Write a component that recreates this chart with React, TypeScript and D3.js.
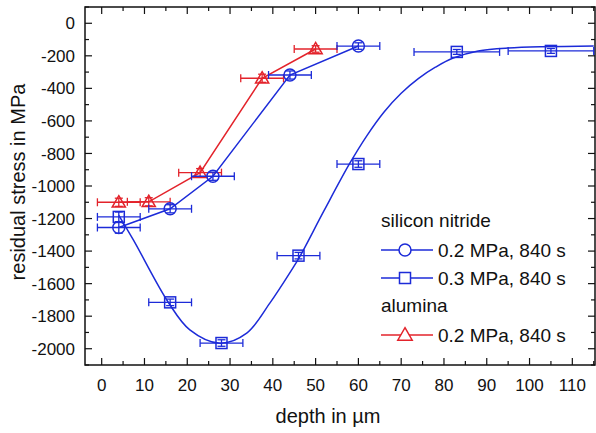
import React, { useRef, useEffect } from 'react';
import * as d3 from 'd3';

// silicon nitride, 0.2 MPa, 840 s
const circleDepth = [4, 16, 26, 44, 60];
const circleStress = [-1255, -1140, -940, -318, -140];
const circleDepthErr = [5, 5, 5, 5, 5];
const circleStressErr = [35, 25, 25, 25, 20];

// silicon nitride, 0.3 MPa, 840 s
const squareDepth = [4, 16, 28, 46, 60, 83, 105];
const squareStress = [-1190, -1715, -1965, -1428, -865, -176, -170];
const squareDepthErr = [5, 5, 5, 5, 5, 10, 10];
const squareStressErr = [30, 20, 20, 20, 20, 15, 15];

// fitted curve through the 0.3 MPa data
const fitDepth = [4, 7.4, 15.6, 20.6, 27.6, 33.9, 39.3, 44.4, 46.3, 52, 58, 62, 66, 70, 74, 78, 82, 88, 95, 115];
const fitStress = [-1180, -1331, -1716, -1884, -1966, -1904, -1720, -1516, -1434, -1150, -860, -690, -545, -430, -340, -270, -215, -170, -152, -140];

// alumina, 0.2 MPa, 840 s
const triDepth = [4, 11, 23, 37.5, 50];
const triStress = [-1100, -1097, -918, -338, -158];
const triDepthErr = [5, 5, 5, 5, 5];
const triStressErr = [25, 25, 25, 25, 20];

const xMajorTicks = [0, 10, 20, 30, 40, 50, 60, 70, 80, 90, 100, 110];
const yMajorTicks = [0, -200, -400, -600, -800, -1000, -1200, -1400, -1600, -1800, -2000];

const BLUE = '#1c2bd8';
const RED = '#e3232b';
const FONT = '"Liberation Sans", Arial, Helvetica, sans-serif';

function drawMarker(g, shape, cx, cy, color) {
  if (shape === 'circle') {
    g.append('circle').attr('cx', cx).attr('cy', cy).attr('r', 6)
      .attr('fill', 'none').attr('stroke', color).attr('stroke-width', 1.5);
  } else if (shape === 'square') {
    g.append('rect').attr('x', cx - 5.5).attr('y', cy - 5.5).attr('width', 11).attr('height', 11)
      .attr('fill', 'none').attr('stroke', color).attr('stroke-width', 1.5);
  } else {
    const s = d3.symbol().type(d3.symbolTriangle).size(75);
    g.append('path').attr('d', s()).attr('transform', `translate(${cx},${cy + 1})`)
      .attr('fill', 'none').attr('stroke', color).attr('stroke-width', 1.5);
  }
}

function StressChart() {
  const svgRef = useRef(null);

  useEffect(() => {
    const svg = d3.select(svgRef.current);
    svg.selectAll('*').remove();

    const left = 85, right = 595, top = 7, bottom = 365;
    const x = d3.scaleLinear().domain([-3.9, 115.3]).range([left, right]);
    const y = d3.scaleLinear().domain([100, -2100]).range([top, bottom]);

    const plot = svg.append('g');

    // frame
    plot.append('rect')
      .attr('x', left).attr('y', top)
      .attr('width', right - left).attr('height', bottom - top)
      .attr('fill', 'none').attr('stroke', '#111').attr('stroke-width', 1.5);

    // ticks (all inward)
    const ticks = plot.append('g').attr('stroke', '#111').attr('stroke-width', 1.2);
    d3.range(-2100, 101, 100).forEach(v => {
      const major = v % 200 === 0;
      const len = major ? 7 : 4;
      ticks.append('line').attr('x1', left).attr('x2', left + len).attr('y1', y(v)).attr('y2', y(v));
      ticks.append('line').attr('x1', right).attr('x2', right - len).attr('y1', y(v)).attr('y2', y(v));
    });
    d3.range(0, 116, 5).forEach(v => {
      const major = v % 10 === 0;
      const len = major ? 7 : 4;
      ticks.append('line').attr('x1', x(v)).attr('x2', x(v)).attr('y1', bottom).attr('y2', bottom - len);
      ticks.append('line').attr('x1', x(v)).attr('x2', x(v)).attr('y1', top).attr('y2', top + len);
    });

    // tick labels
    svg.append('g').selectAll('text').data(xMajorTicks).join('text')
      .attr('x', d => x(d)).attr('y', 391)
      .attr('text-anchor', 'middle')
      .attr('font-family', FONT).attr('font-size', 17).attr('fill', '#111')
      .text(d => d);
    svg.append('g').selectAll('text').data(yMajorTicks).join('text')
      .attr('x', 75).attr('y', d => y(d)).attr('dy', '0.36em')
      .attr('text-anchor', 'end')
      .attr('font-family', FONT).attr('font-size', 17).attr('fill', '#111')
      .text(d => d);

    // axis titles
    svg.append('text')
      .attr('x', 328).attr('y', 423).attr('text-anchor', 'middle')
      .attr('font-family', FONT).attr('font-size', 20).attr('fill', '#111')
      .text('depth in µm');
    svg.append('text')
      .attr('transform', 'translate(25,182) rotate(-90)')
      .attr('text-anchor', 'middle')
      .attr('font-family', FONT).attr('font-size', 20).attr('fill', '#111')
      .text('residual stress in MPa');

    // error bars
    const errorBars = (dx, dy, ex, ey, color) => {
      const g = plot.append('g').attr('stroke', color).attr('stroke-width', 1.3).attr('fill', 'none');
      dx.forEach((d, i) => {
        const cy = y(dy[i]);
        g.append('line').attr('x1', x(d - ex[i])).attr('x2', x(d + ex[i])).attr('y1', cy).attr('y2', cy);
        g.append('line').attr('x1', x(d - ex[i])).attr('x2', x(d - ex[i])).attr('y1', cy - 4).attr('y2', cy + 4);
        g.append('line').attr('x1', x(d + ex[i])).attr('x2', x(d + ex[i])).attr('y1', cy - 4).attr('y2', cy + 4);
        const cx = x(d);
        g.append('line').attr('x1', cx).attr('x2', cx).attr('y1', y(dy[i] - ey[i])).attr('y2', y(dy[i] + ey[i]));
        g.append('line').attr('x1', cx - 4).attr('x2', cx + 4).attr('y1', y(dy[i] - ey[i])).attr('y2', y(dy[i] - ey[i]));
        g.append('line').attr('x1', cx - 4).attr('x2', cx + 4).attr('y1', y(dy[i] + ey[i])).attr('y2', y(dy[i] + ey[i]));
      });
    };

    const straight = d3.line().x(d => x(d[0])).y(d => y(d[1]));
    const smooth = d3.line().curve(d3.curveCatmullRom.alpha(0.5)).x(d => x(d[0])).y(d => y(d[1]));

    // fitted curve
    plot.append('path')
      .attr('d', smooth(fitDepth.map((d, i) => [d, fitStress[i]])))
      .attr('fill', 'none').attr('stroke', BLUE).attr('stroke-width', 1.5);

    // alumina
    plot.append('path')
      .attr('d', straight(triDepth.map((d, i) => [d, triStress[i]])))
      .attr('fill', 'none').attr('stroke', RED).attr('stroke-width', 1.5);
    errorBars(triDepth, triStress, triDepthErr, triStressErr, RED);
    triDepth.forEach((d, i) => drawMarker(plot, 'triangle', x(d), y(triStress[i]), RED));

    // silicon nitride 0.3 MPa
    errorBars(squareDepth, squareStress, squareDepthErr, squareStressErr, BLUE);
    squareDepth.forEach((d, i) => drawMarker(plot, 'square', x(d), y(squareStress[i]), BLUE));

    // silicon nitride 0.2 MPa
    plot.append('path')
      .attr('d', straight(circleDepth.map((d, i) => [d, circleStress[i]])))
      .attr('fill', 'none').attr('stroke', BLUE).attr('stroke-width', 1.5);
    errorBars(circleDepth, circleStress, circleDepthErr, circleStressErr, BLUE);
    circleDepth.forEach((d, i) => drawMarker(plot, 'circle', x(d), y(circleStress[i]), BLUE));

    // legend
    const lg = svg.append('g').attr('font-family', FONT).attr('font-size', 19).attr('fill', '#111');
    lg.append('text').attr('x', 381).attr('y', 227).text('silicon nitride');
    lg.append('text').attr('x', 381).attr('y', 312).text('alumina');
    const rows = [
      { shape: 'circle', color: BLUE, cy: 250, label: '0.2 MPa, 840 s' },
      { shape: 'square', color: BLUE, cy: 278, label: '0.3 MPa, 840 s' },
      { shape: 'triangle', color: RED, cy: 335, label: '0.2 MPa, 840 s' },
    ];
    rows.forEach(r => {
      lg.append('line').attr('x1', 381).attr('x2', 433).attr('y1', r.cy).attr('y2', r.cy)
        .attr('stroke', r.color).attr('stroke-width', 1.5);
      const mg = lg.append('g');
      if (r.shape === 'circle') {
        mg.append('circle').attr('cx', 405).attr('cy', r.cy).attr('r', 6)
          .attr('fill', 'white').attr('stroke', r.color).attr('stroke-width', 1.5);
      } else if (r.shape === 'square') {
        mg.append('rect').attr('x', 399.5).attr('y', r.cy - 5.5).attr('width', 11).attr('height', 11)
          .attr('fill', 'white').attr('stroke', r.color).attr('stroke-width', 1.5);
      } else {
        mg.append('path').attr('d', d3.symbol().type(d3.symbolTriangle).size(90)())
          .attr('transform', `translate(405,${r.cy + 1})`)
          .attr('fill', 'white').attr('stroke', r.color).attr('stroke-width', 1.5);
      }
      lg.append('text').attr('x', 438).attr('y', r.cy + 6.5).text(r.label);
    });
  }, []);

  return <svg ref={svgRef} width={596} height={433} style={{ display: 'block' }} />;
}

export default function App() {
  return (
    <div style={{ position: 'absolute', left: 0, top: 0, width: 596, height: 433, background: 'white' }}>
      <StressChart />
    </div>
  );
}
